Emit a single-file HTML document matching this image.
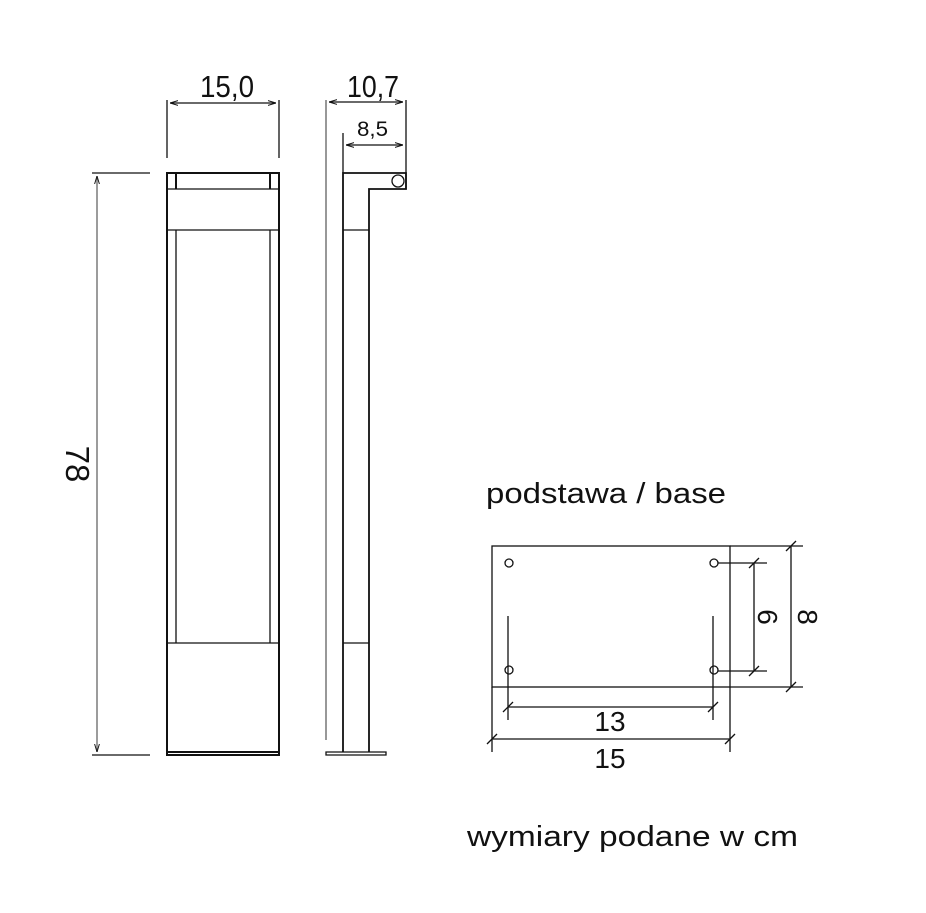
<!DOCTYPE html>
<html><head><meta charset="utf-8"><style>
html,body{margin:0;padding:0;background:#fff;}
svg{display:block;}
text{font-family:"Liberation Sans",sans-serif;fill:#111;}
</style></head><body>
<svg width="926" height="913" viewBox="0 0 926 913" xmlns="http://www.w3.org/2000/svg">
<defs>
<marker id="ar" viewBox="0 0 10 10" refX="10" refY="5" markerWidth="8" markerHeight="8" orient="auto-start-reverse" markerUnits="userSpaceOnUse">
<path d="M0,2 L10,5 L0,8" fill="none" stroke="#111" stroke-width="1.2"/></marker>
</defs>
<g stroke="#111" stroke-width="1.3" fill="none">
<line x1="167" y1="100" x2="167" y2="158"/>
<line x1="279" y1="100" x2="279" y2="158"/>
<line x1="170" y1="103" x2="276" y2="103" marker-start="url(#ar)" marker-end="url(#ar)"/>
<rect x="167" y="173" width="112" height="582" stroke-width="2"/>
<line x1="167" y1="189" x2="279" y2="189"/>
<line x1="176" y1="173" x2="176" y2="189" stroke-width="2"/>
<line x1="270" y1="173" x2="270" y2="189" stroke-width="2"/>
<line x1="167" y1="230" x2="279" y2="230"/>
<line x1="176" y1="230" x2="176" y2="643"/>
<line x1="270" y1="230" x2="270" y2="643"/>
<line x1="167" y1="643" x2="279" y2="643"/>
<line x1="167" y1="752" x2="279" y2="752" stroke-width="2"/>
<line x1="92" y1="173" x2="150" y2="173"/>
<line x1="92" y1="755" x2="150" y2="755"/>
<line x1="97" y1="176" x2="97" y2="752" stroke="#666" marker-start="url(#ar)" marker-end="url(#ar)"/>
<line x1="326" y1="100" x2="326" y2="740" stroke="#777" stroke-width="1.5"/>
<line x1="406" y1="100" x2="406" y2="189"/>
<line x1="343" y1="133" x2="343" y2="173"/>
<line x1="329" y1="102" x2="403" y2="102" marker-start="url(#ar)" marker-end="url(#ar)"/>
<line x1="346" y1="145" x2="403" y2="145" marker-start="url(#ar)" marker-end="url(#ar)"/>
<path d="M343,752 L343,173 L406,173 L406,189 L369,189 L369,752" stroke-width="1.8"/>
<circle cx="398" cy="181" r="6"/>
<line x1="343" y1="230" x2="369" y2="230"/>
<line x1="343" y1="643" x2="369" y2="643"/>
<path d="M326,752 L386,752 L386,755 L326,755 Z"/>
<rect x="492" y="546" width="238" height="141"/>
<circle cx="509" cy="563" r="4"/><circle cx="714" cy="563" r="4"/>
<circle cx="509" cy="670" r="4"/><circle cx="714" cy="670" r="4"/>
<line x1="492" y1="687" x2="492" y2="752"/>
<line x1="730" y1="687" x2="730" y2="752"/>
<line x1="492" y1="739" x2="730" y2="739"/>
<line x1="487" y1="744" x2="497" y2="734"/><line x1="725" y1="744" x2="735" y2="734"/>
<line x1="508" y1="616" x2="508" y2="720"/>
<line x1="713" y1="616" x2="713" y2="720"/>
<line x1="508" y1="707" x2="713" y2="707"/>
<line x1="503" y1="712" x2="513" y2="702"/><line x1="708" y1="712" x2="718" y2="702"/>
<line x1="718" y1="563" x2="767" y2="563"/>
<line x1="718" y1="671" x2="767" y2="671"/>
<line x1="754" y1="563" x2="754" y2="671"/>
<line x1="749" y1="568" x2="759" y2="558"/><line x1="749" y1="676" x2="759" y2="666"/>
<line x1="730" y1="546" x2="803" y2="546"/>
<line x1="730" y1="687" x2="803" y2="687"/>
<line x1="791" y1="546" x2="791" y2="687"/>
<line x1="786" y1="551" x2="796" y2="541"/><line x1="786" y1="692" x2="796" y2="682"/>
</g>
<text x="200" y="97" font-size="31" textLength="54" lengthAdjust="spacingAndGlyphs">15,0</text>
<text x="347" y="97" font-size="31" textLength="52" lengthAdjust="spacingAndGlyphs">10,7</text>
<text x="357" y="136" font-size="21" textLength="31" lengthAdjust="spacingAndGlyphs">8,5</text>
<text x="0" y="0" font-size="33" text-anchor="middle" transform="translate(66,464) rotate(90)">78</text>
<text x="0" y="0" font-size="28" text-anchor="middle" transform="translate(758,617) rotate(90)">6</text>
<text x="0" y="0" font-size="28" text-anchor="middle" transform="translate(798,617) rotate(90)">8</text>
<text x="610" y="731" font-size="28" text-anchor="middle">13</text>
<text x="610" y="768" font-size="28" text-anchor="middle">15</text>
<text x="486" y="503" font-size="29" textLength="240" lengthAdjust="spacingAndGlyphs">podstawa / base</text>
<text x="467" y="846" font-size="29" textLength="331" lengthAdjust="spacingAndGlyphs">wymiary podane w cm</text>
</svg>
</body></html>
